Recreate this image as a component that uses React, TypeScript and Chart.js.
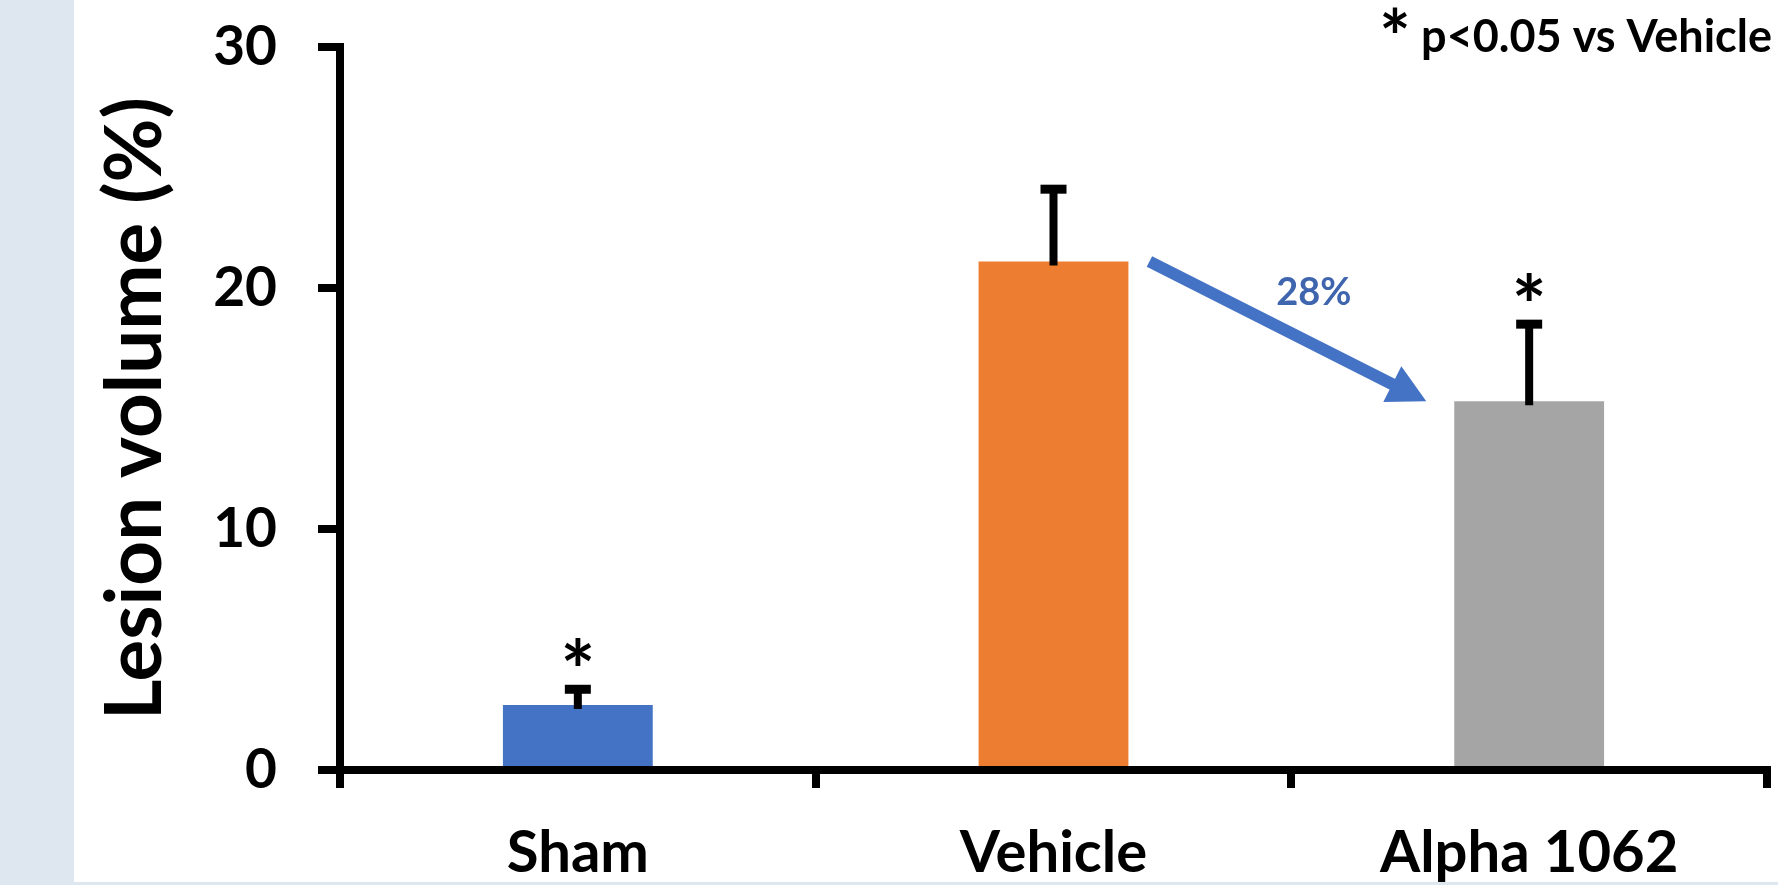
import React, { useEffect, useRef } from "react";
import { Chart, registerables } from "chart.js";

Chart.register(...registerables);

// ---- data ----
const categories = ["Sham", "Vehicle", "Alpha 1062"];
const lesionVolume = [2.7, 21.1, 15.3];
const errorUpper = [3.35, 24.1, 18.5];
const barColors = ["#4472C4", "#ED7D31", "#A5A5A5"];
const significant = [true, false, true];
const yTickValues = [0, 10, 20, 30];
const yTitle = "Lesion volume (%)";
const reductionLabel = "28%";
const noteStar = "*";
const noteText = "p<0.05 vs Vehicle";

const FONT = 'Lato, "Open Sans", sans-serif';

const backgroundPlugin = {
  id: "pageBackground",
  beforeDraw(chart: any) {
    const { ctx, width, height } = chart;
    ctx.save();
    ctx.fillStyle = "#ffffff";
    ctx.fillRect(0, 0, width, height);
    ctx.fillStyle = "#DEE6EF";
    ctx.fillRect(0, 0, 74, height);
    ctx.fillRect(0, height - 3, width, 3);
    ctx.restore();
  },
};

function drawCentered(ctx: CanvasRenderingContext2D, text: string, cx: number, cy: number) {
  ctx.textAlign = "center";
  ctx.textBaseline = "alphabetic";
  const m = ctx.measureText(text);
  const asc = m.actualBoundingBoxAscent;
  const desc = m.actualBoundingBoxDescent;
  ctx.fillText(text, cx, cy + (asc - desc) / 2);
}

const overlayPlugin = {
  id: "overlay",
  afterDraw(chart: any) {
    const { ctx, chartArea } = chart;
    const y = chart.scales.y;
    const meta = chart.getDatasetMeta(0);
    ctx.save();

    // error bars + significance stars
    meta.data.forEach((bar: any, i: number) => {
      const cx = bar.x;
      const yTop = y.getPixelForValue(lesionVolume[i]);
      const yErr = y.getPixelForValue(errorUpper[i]);
      ctx.strokeStyle = "#000";
      ctx.lineCap = "butt";
      ctx.lineWidth = 8;
      ctx.beginPath();
      ctx.moveTo(cx, yTop + 4);
      ctx.lineTo(cx, yErr);
      ctx.stroke();
      ctx.lineWidth = 9;
      ctx.beginPath();
      ctx.moveTo(cx - 13, yErr);
      ctx.lineTo(cx + 13, yErr);
      ctx.stroke();
      if (significant[i]) {
        ctx.fillStyle = "#000";
        ctx.font = `bold 82px ${FONT}`;
        drawCentered(ctx, "*", cx, yErr - 38);
      }
    });

    // arrow from Vehicle to Alpha 1062
    const vBar: any = meta.data[1];
    const aBar: any = meta.data[2];
    const sx = vBar.x + vBar.width / 2 + 21;
    const sy = y.getPixelForValue(lesionVolume[1]);
    const tx = aBar.x - aBar.width / 2 - 28;
    const ty = y.getPixelForValue(lesionVolume[2]);
    const len = Math.hypot(tx - sx, ty - sy);
    const dx = (tx - sx) / len;
    const dy = (ty - sy) / len;
    const nx = -dy;
    const ny = dx;
    const headLen = 38;
    const headHalf = 20;
    const bx = tx - dx * headLen;
    const by = ty - dy * headLen;
    ctx.strokeStyle = "#4472C4";
    ctx.fillStyle = "#4472C4";
    ctx.lineWidth = 12;
    ctx.beginPath();
    ctx.moveTo(sx, sy);
    ctx.lineTo(bx + dx * 2, by + dy * 2);
    ctx.stroke();
    ctx.beginPath();
    ctx.moveTo(tx, ty);
    ctx.lineTo(bx + nx * headHalf, by + ny * headHalf);
    ctx.lineTo(bx - nx * headHalf, by - ny * headHalf);
    ctx.closePath();
    ctx.fill();

    // reduction label
    ctx.fillStyle = "#3F65AE";
    ctx.font = `bold 38px ${FONT}`;
    drawCentered(ctx, reductionLabel, (sx + tx) / 2 + 26, (sy + ty) / 2 - 40);

    // significance note (top right)
    ctx.fillStyle = "#000";
    ctx.font = `bold 45px ${FONT}`;
    ctx.textAlign = "right";
    ctx.textBaseline = "alphabetic";
    const noteRight = chartArea.right + 5;
    const noteBaseline = chartArea.top + 5;
    ctx.fillText(noteText, noteRight, noteBaseline);
    const w = ctx.measureText(noteText).width;
    ctx.font = `bold 74px ${FONT}`;
    drawCentered(ctx, noteStar, noteRight - w - 26, chartArea.top - 27);

    ctx.restore();
  },
};

export default function App() {
  const canvasRef = useRef<HTMLCanvasElement | null>(null);

  useEffect(() => {
    const canvas = canvasRef.current;
    if (!canvas) return;
    const chart = new Chart(canvas, {
      type: "bar",
      data: {
        labels: categories,
        datasets: [
          {
            data: lesionVolume,
            backgroundColor: barColors,
            borderWidth: 0,
            barPercentage: 0.315,
            categoryPercentage: 1,
          },
        ],
      },
      options: {
        responsive: false,
        animation: false,
        layout: { padding: { left: 0, right: 11, top: 47, bottom: 0 } },
        plugins: {
          legend: { display: false },
          tooltip: { enabled: false },
        },
        scales: {
          x: {
            type: "category",
            offset: true,
            grid: {
              offset: true,
              drawOnChartArea: false,
              drawTicks: true,
              tickLength: 18,
              color: "#000",
              lineWidth: 8,
            },
            border: { display: true, color: "#000", width: 8, z: 1 },
            ticks: {
              color: "#000",
              font: { family: FONT, weight: "bold", size: 58 },
              padding: 30,
              maxRotation: 0,
              autoSkip: false,
            },
            afterFit: (s: any) => {
              s.height = 115;
              s.paddingLeft = 0;
              s.paddingRight = 0;
            },
          },
          y: {
            min: 0,
            max: 30,
            afterBuildTicks: (s: any) => {
              s.ticks = yTickValues.map((v) => ({ value: v }));
            },
            grid: {
              drawOnChartArea: false,
              drawTicks: true,
              tickLength: 22,
              color: "#000",
              lineWidth: 8,
            },
            border: { display: true, color: "#000", width: 8, z: 1 },
            ticks: {
              color: "#000",
              font: { family: FONT, weight: "bold", size: 55 },
              padding: 41,
            },
            title: {
              display: true,
              text: yTitle,
              color: "#000",
              font: { family: FONT, weight: "bold", size: 78 },
              padding: { top: 89, bottom: 0 },
            },
            afterFit: (s: any) => {
              s.width = 340;
              s.paddingTop = 0;
              s.paddingBottom = 0;
            },
          },
        },
      } as any,
      plugins: [backgroundPlugin, overlayPlugin],
    });
    return () => chart.destroy();
  }, []);

  return (
    <canvas
      ref={canvasRef}
      width={1778}
      height={885}
      style={{ position: "fixed", left: 0, top: 0, display: "block" }}
    />
  );
}
